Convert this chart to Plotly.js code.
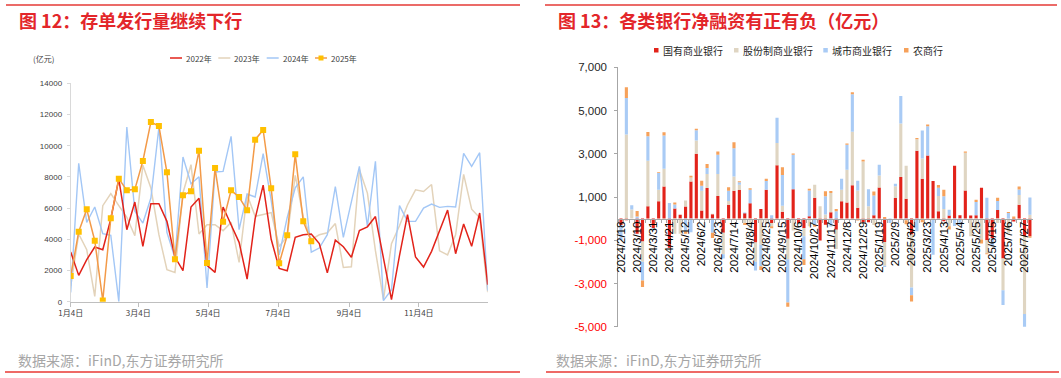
<!DOCTYPE html>
<html><head><meta charset="utf-8">
<script src="https://cdn.plot.ly/plotly-3.0.1.min.js"></script>
<style>html,body{margin:0;padding:0;background:#fff}#chart{width:1061px;height:378px}</style>
</head><body><div id="chart"></div>
<script>
// ---------- Left chart: weekly CD issuance (亿元) ----------
const leftTickVals = [0, 59, 120, 181, 243, 304];           // day offsets from 1月4日
const leftTickText = ['1月4日','3月4日','5月4日','7月4日','9月4日','11月4日'];
const y2022 = [3184,1688,2693,3505,3334,5300,7864,4616,6390,3547,6283,6283,5150,2864,1987,6069,6625,2329,1881,6069,4936,3804,1453,5321,7470,4000,2130,1987,4124,4290,4340,3730,1850,3945,3520,2845,4555,4800,5460,2880,130,2950,5578,2864,2222,3227,4550,5877,3077,4979,3547,5684,1090];
const y2023 = [1000,4338,3334,342,6155,6924,6155,5407,4231,8740,7287,4295,2052,1880,6967,8783,4338,4936,4936,4552,5086,2522,6860,5471,5590,5715,3540,4200,8100,5450,4000,4290,4420,5010,2190,2240,8480,6960,3270,140,3720,4870,6200,7170,7060,7510,3260,3000,4285,8160,5930,5380,610];
const y2024 = [598,8868,5086,6069,4359,4253,0,11198,5791,5043,6646,11177,4445,2800,9275,7565,8014,876,8313,8356,10600,4616,6903,6710,9490,6500,3000,5400,7300,8000,3180,3440,4295,7373,4124,6432,8676,4830,8997,64,769,6155,5150,5150,6005,6261,6048,6112,6069,9510,8676,9552,700];
const y2025 = [1645,4488,5920,3911,80,5343,7886,7138,7202,9018,11518,11262,8292,2714,6817,7073,9681,2479,8569,5129,7138,6710,5855,10386,11005,7266,2458,4260,9446,5160,3880];
const weekDays = s => s.map((_, i) => i * 7);

// ---------- Right chart: net financing by bank type (亿元) ----------
const weeks = ['2024/2/18','2024/2/25','2024/3/3','2024/3/10','2024/3/17','2024/3/24','2024/3/31','2024/4/7','2024/4/14','2024/4/21','2024/4/28','2024/5/5','2024/5/12','2024/5/19','2024/5/26','2024/6/2','2024/6/9','2024/6/16','2024/6/23','2024/6/30','2024/7/7','2024/7/14','2024/7/21','2024/7/28','2024/8/4','2024/8/11','2024/8/18','2024/8/25','2024/9/1','2024/9/8','2024/9/15','2024/9/22','2024/9/29','2024/10/6','2024/10/13','2024/10/20','2024/10/27','2024/11/3','2024/11/10','2024/11/17','2024/11/24','2024/12/1','2024/12/8','2024/12/15','2024/12/22','2024/12/29','2025/1/5','2025/1/12','2025/1/19','2025/1/26','2025/2/2','2025/2/9','2025/2/16','2025/2/23','2025/3/2','2025/3/9','2025/3/16','2025/3/23','2025/3/30','2025/4/6','2025/4/13','2025/4/20','2025/4/27','2025/5/4','2025/5/11','2025/5/18','2025/5/25','2025/6/1','2025/6/8','2025/6/15','2025/6/22','2025/6/29','2025/7/6','2025/7/13','2025/7/20','2025/7/27','2025/8/3'];
const stateBanks = [-300,-80,0,-700,-1060,570,-450,800,1490,-1350,470,180,560,1720,3000,370,1415,200,1050,-650,645,1290,1320,250,710,-1100,440,1340,-200,2470,320,-935,1360,-220,-430,110,960,-1010,-280,290,-510,800,740,1545,500,-170,-170,150,1445,-1080,0,955,1930,920,-740,3140,1845,2920,1740,340,-120,145,2445,150,1300,140,150,1430,-1000,-900,400,-1850,0,-130,645,-800,-810];
const jointStock = [0,3890,420,0,-930,2110,0,540,820,0,-700,-700,280,180,615,920,650,30,1010,-1000,170,660,250,-200,-450,-900,-1200,-200,-150,1030,280,-950,-550,-50,-380,-350,610,570,190,890,-890,540,1520,2468,800,2645,570,-290,553,-1100,0,540,2467,1530,-2450,530,940,0,-50,705,447,-355,0,0,1750,-815,-500,-965,-600,0,-200,-1460,-700,0,445,-3610,180];
const cityBanks = [-700,1690,200,100,-870,1125,-100,770,1530,720,180,0,-600,-630,470,230,280,-650,900,-200,470,1300,110,30,620,-400,-1000,400,150,1170,1420,-1990,1600,0,-1070,1190,-280,0,850,-370,340,500,1160,1745,446,0,790,925,492,-60,-200,115,1276,-80,-350,-585,1290,1350,-1620,380,585,270,-340,-300,0,0,620,0,960,-400,420,-685,260,0,260,-650,800];
const ruralBanks = [0,500,0,250,-300,200,0,30,150,0,100,0,-100,80,75,230,180,-250,150,0,170,280,50,-100,70,0,-180,100,-100,0,360,-200,50,0,-260,80,-100,0,230,100,110,0,55,92,-90,77,0,185,0,70,0,0,0,-180,-300,60,-170,80,0,135,308,-150,0,0,55,0,100,-185,-50,0,145,0,50,100,135,0,-80];
const rightTickVals = [-5000,-3000,-1000,1000,3000,5000,7000];

const W = 1061, H = 378;
const px = x => x / W, py = y => 1 - y / H;
const FONT = 'Liberation Sans, Arial, Noto Sans CJK SC, sans-serif';
const CJK = 'Noto Sans CJK SC, Liberation Sans, sans-serif';

const C22 = '#E2231A', C23 = '#E3D3BA', C24 = '#A3C7F6', C25 = '#F39A48', M25 = '#FFC000';
const CB1 = '#E2231A', CB2 = '#DFD5C2', CB3 = '#A9CBF5', CB4 = '#F6A15A';

const traces = [
  {x: weekDays(y2023), y: y2023, type:'scatter', mode:'lines', line:{color:C23, width:1.5}, xaxis:'x', yaxis:'y', showlegend:false, name:'2023年'},
  {x: weekDays(y2024), y: y2024, type:'scatter', mode:'lines', line:{color:C24, width:1.4}, xaxis:'x', yaxis:'y', showlegend:false, name:'2024年'},
  {x: weekDays(y2022), y: y2022, type:'scatter', mode:'lines', line:{color:C22, width:1.5}, xaxis:'x', yaxis:'y', showlegend:false, name:'2022年'},
  {x: weekDays(y2025), y: y2025, type:'scatter', mode:'lines+markers', line:{color:C25, width:1.5}, marker:{symbol:'square', size:6, color:M25}, xaxis:'x', yaxis:'y', showlegend:false, name:'2025年'},
  {x: weeks, y: stateBanks, type:'bar', marker:{color:CB1}, xaxis:'x2', yaxis:'y2', showlegend:false, name:'国有商业银行'},
  {x: weeks, y: jointStock, type:'bar', marker:{color:CB2}, xaxis:'x2', yaxis:'y2', showlegend:false, name:'股份制商业银行'},
  {x: weeks, y: cityBanks, type:'bar', marker:{color:CB3}, xaxis:'x2', yaxis:'y2', showlegend:false, name:'城市商业银行'},
  {x: weeks, y: ruralBanks, type:'bar', marker:{color:CB4}, xaxis:'x2', yaxis:'y2', showlegend:false, name:'农商行'}
];

const fmt = v => {
  const s = Math.abs(v).toLocaleString('en-US');
  return v < 0 ? '<span style="color:#FF0000">-' + s + '</span>' : s;
};

const shapes = [];
const annotations = [];
function line(x0,y0,x1,y1,color,width){shapes.push({type:'line',xref:'paper',yref:'paper',x0:px(x0),y0:py(y0),x1:px(x1),y1:py(y1),line:{color,width}});}
function rect(x0,y0,x1,y1,color){shapes.push({type:'rect',xref:'paper',yref:'paper',x0:px(x0),y0:py(y0),x1:px(x1),y1:py(y1),line:{width:0},fillcolor:color});}
function text(x,y,t,size,color,anchor,family,bold){annotations.push({xref:'paper',yref:'paper',x:px(x),y:py(y),text:bold?'<b>'+t+'</b>':t,showarrow:false,xanchor:anchor||'left',yanchor:'middle',font:{size,color,family:family||CJK}});}

// frame lines
line(6,5,520,5,'#E53A36',1.5);
line(545,5,1057,5,'#E53A36',1.5);
line(5,372,520,372,'#EE6A66',2);
line(546,372,1059,372,'#EE6A66',2);
// titles
text(17,19.5,'图 12：存单发行量继续下行',18,'#E3262A','left',CJK,true);
text(556,19.5,'图 13：各类银行净融资有正有负（亿元）',18,'#E3262A','left',CJK,true);
// sources
text(16,360,'数据来源：iFinD,东方证券研究所',14,'#A6A6A6');
text(554,360,'数据来源：iFinD,东方证券研究所',14,'#A6A6A6');
// unit
text(31,59,'(亿元)',8,'#404040');
// left legend
const leftLeg = [[170,'2022年',C22],[218.3,'2023年',C23],[266.7,'2024年',C24],[315,'2025年',C25]];
leftLeg.forEach(([x,t,c],i)=>{ line(x,58,x+12,58,c,1.5); if(i===3) rect(x+3.5,55.5,x+8.5,60.5,M25); text(x+14,58.3,t,8,'#404040'); });
// right legend
const rightLeg = [[654,'国有商业银行',CB1],[734,'股份制商业银行',CB2],[823.3,'城市商业银行',CB3],[904,'农商行',CB4]];
rightLeg.forEach(([x,t,c])=>{ rect(x,48,x+4.5,52.5,c); text(x+6.5,50.3,t,10,'#262626'); });

const layout = {
  width: W, height: H,
  margin: {l:0, r:0, t:0, b:0},
  paper_bgcolor: '#fff', plot_bgcolor: 'rgba(0,0,0,0)',
  font: {family: FONT},
  showlegend: false,
  barmode: 'relative', bargap: 0.42,
  xaxis: {domain:[px(70.7), px(487.7)], range:[0,364], tickmode:'array', tickvals:leftTickVals, ticktext:leftTickText,
          ticks:'outside', ticklen:4, tickcolor:'#BFBFBF', showline:true, linecolor:'#BFBFBF', linewidth:1,
          showgrid:false, zeroline:false, tickfont:{size:8, color:'#404040', family:CJK}, anchor:'y', fixedrange:true},
  yaxis: {domain:[py(301.7), py(83.3)], range:[0,14000], dtick:2000, tickformat:'d',
          ticks:'outside', ticklen:3, tickcolor:'#D9D9D9', showline:true, linecolor:'#D9D9D9', linewidth:1,
          showgrid:false, zeroline:false, tickfont:{size:8, color:'#404040'}, ticklabelstandoff:3, anchor:'x'},
  xaxis2: {domain:[px(618.3), px(1032.6)], type:'category', anchor:'free', position:py(219),
           tickmode:'array', tickvals:weeks, ticktext:weeks.map((w,i)=> i%3===0 ? w : ''),
           tickangle:-90, ticks:'outside', ticklen:3, tickcolor:'#A6A6A6', tickson:'boundaries',
           showline:true, linecolor:'#A6A6A6', linewidth:1, showgrid:false, zeroline:false,
           tickfont:{size:11.5, color:'#000'}, ticklabelstandoff:-3},
  yaxis2: {domain:[py(326.7), py(67.3)], range:[-5000,7000], tickmode:'array', tickvals:rightTickVals,
           ticktext:rightTickVals.map(fmt), ticks:'outside', ticklen:3, tickcolor:'#A6A6A6',
           showline:true, linecolor:'#A6A6A6', linewidth:1, showgrid:false, zeroline:false,
           tickfont:{size:11.5, color:'#262626'}, ticklabelstandoff:5, anchor:'x2'},
  shapes, annotations
};

Plotly.newPlot('chart', traces, layout, {staticPlot:true, displayModeBar:false});
</script>
</body></html>
